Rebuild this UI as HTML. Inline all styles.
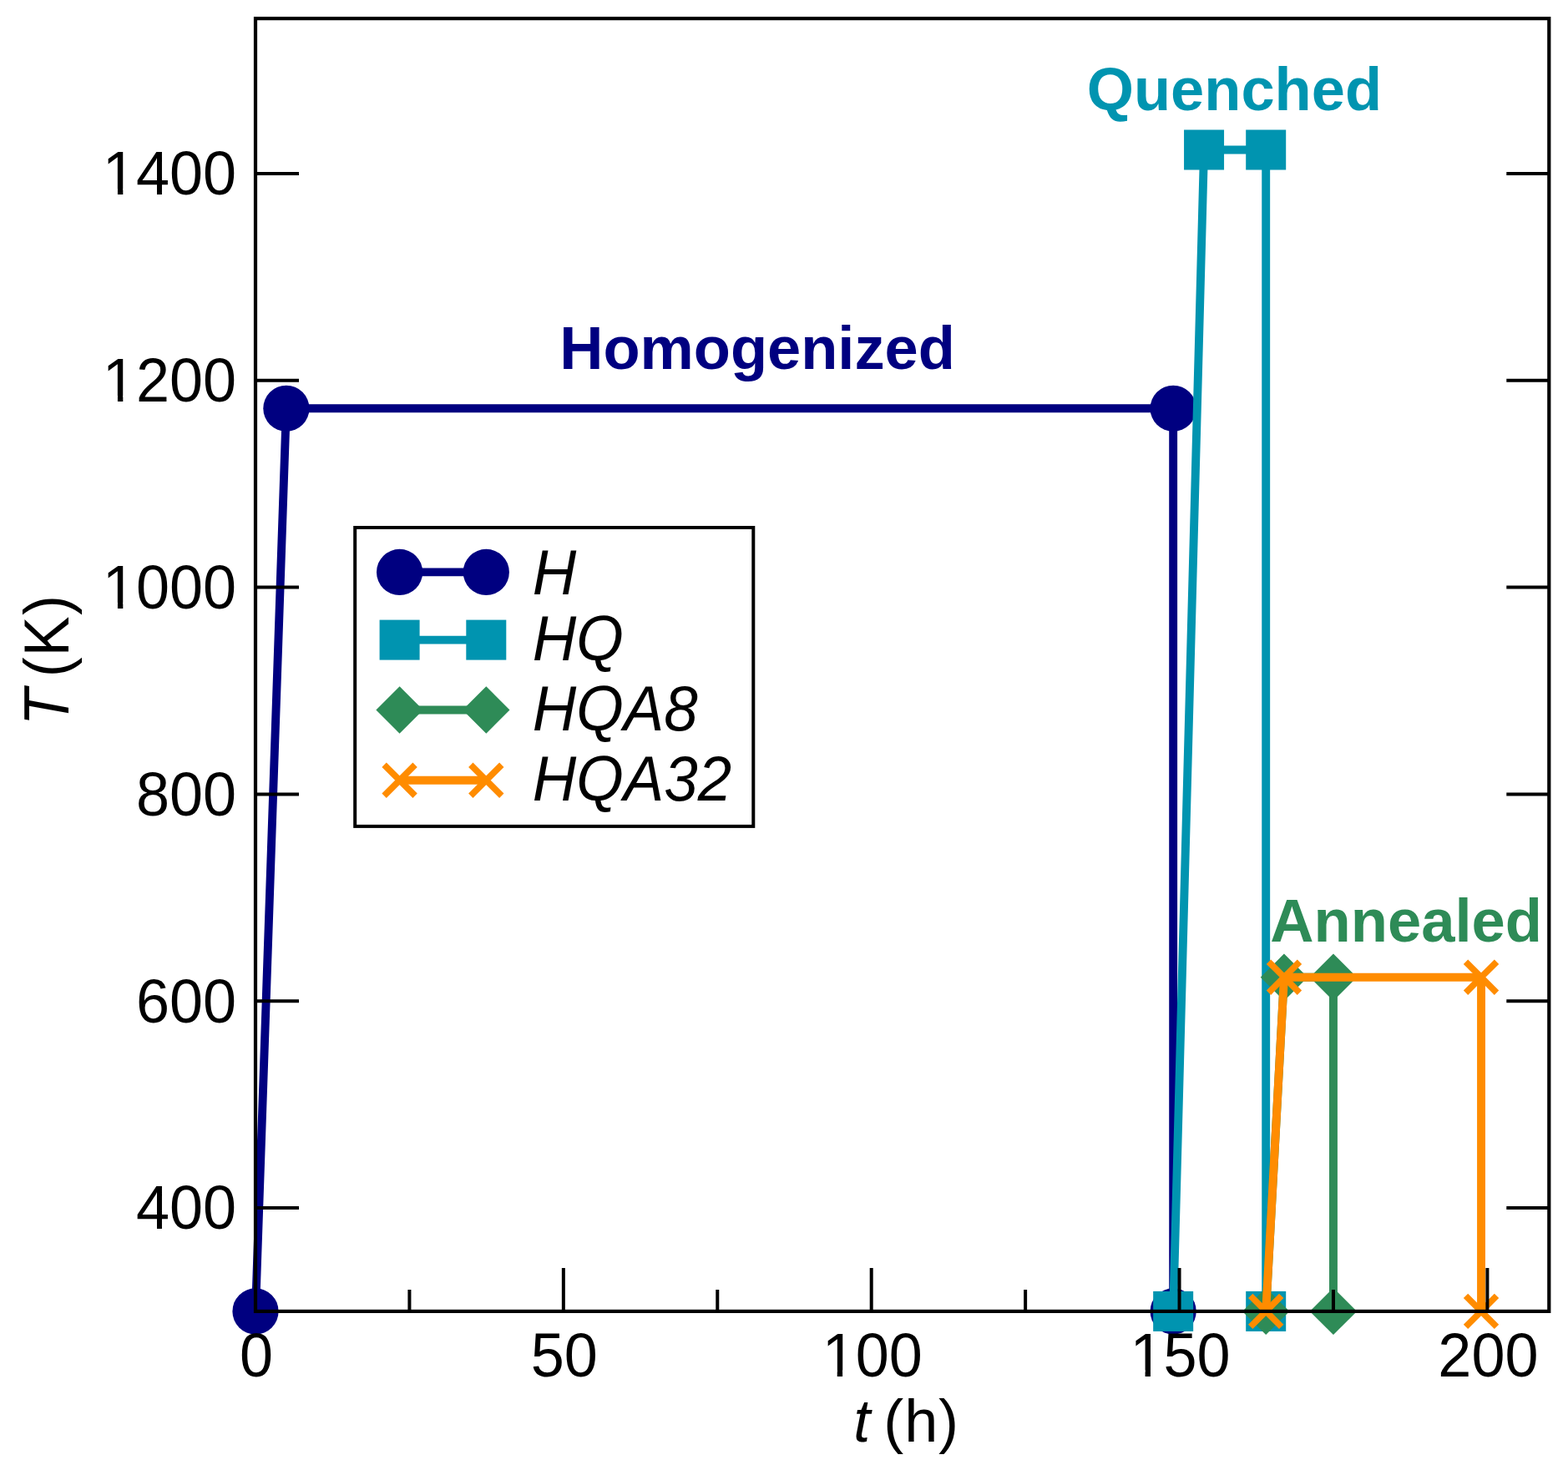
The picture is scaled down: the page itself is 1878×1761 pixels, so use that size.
<!DOCTYPE html>
<html><head><meta charset="utf-8"><title>Temperature history</title>
<style>html,body{margin:0;padding:0;background:#fff}body{width:1878px;height:1761px}svg{display:block}</style>
</head><body>
<svg width="1878" height="1761" viewBox="0 0 1878 1761">
<rect x="0" y="0" width="1878" height="1761" fill="#ffffff"/>
<polyline points="306,1570.9 342.88,489.25 1405.17,489.25 1405.17,1570.9" fill="none" stroke="#000080" stroke-width="9.9" stroke-linejoin="miter" stroke-miterlimit="20" stroke-linecap="butt"/>
<circle cx="306" cy="1570.9" r="27.6" fill="#000080"/>
<circle cx="342.88" cy="489.25" r="27.6" fill="#000080"/>
<circle cx="1405.17" cy="489.25" r="27.6" fill="#000080"/>
<circle cx="1405.17" cy="1570.9" r="27.6" fill="#000080"/>
<polyline points="1405.17,1570.9 1442.06,179.5 1516.2,179.5 1516.2,1570.9" fill="none" stroke="#0094B0" stroke-width="9.9" stroke-linejoin="miter" stroke-miterlimit="20" stroke-linecap="butt"/>
<rect x="1381.17" y="1546.9" width="48" height="48" fill="#0094B0"/>
<rect x="1418.06" y="155.5" width="48" height="48" fill="#0094B0"/>
<rect x="1492.2" y="155.5" width="48" height="48" fill="#0094B0"/>
<rect x="1492.2" y="1546.9" width="48" height="48" fill="#0094B0"/>
<polyline points="1516.2,1570.9 1537.96,1170.7 1596.97,1170.7 1596.97,1570.9" fill="none" stroke="#2E8B57" stroke-width="9.9" stroke-linejoin="miter" stroke-miterlimit="20" stroke-linecap="butt"/>
<polygon points="1516.2,1542.7 1544.4,1570.9 1516.2,1599.1 1488,1570.9" fill="#2E8B57"/>
<polygon points="1537.96,1142.5 1566.16,1170.7 1537.96,1198.9 1509.76,1170.7" fill="#2E8B57"/>
<polygon points="1596.97,1142.5 1625.17,1170.7 1596.97,1198.9 1568.77,1170.7" fill="#2E8B57"/>
<polygon points="1596.97,1542.7 1625.17,1570.9 1596.97,1599.1 1568.77,1570.9" fill="#2E8B57"/>
<polyline points="1516.2,1570.9 1537.96,1170.7 1774.02,1170.7 1774.02,1570.9" fill="none" stroke="#FF8C00" stroke-width="9.9" stroke-linejoin="miter" stroke-miterlimit="20" stroke-linecap="butt"/>
<path d="M1497.7 1552.4L1534.7 1589.4M1497.7 1589.4L1534.7 1552.4" stroke="#FF8C00" stroke-width="7.6" stroke-linecap="butt" fill="none"/>
<path d="M1519.46 1152.2L1556.46 1189.2M1519.46 1189.2L1556.46 1152.2" stroke="#FF8C00" stroke-width="7.6" stroke-linecap="butt" fill="none"/>
<path d="M1755.52 1152.2L1792.52 1189.2M1755.52 1189.2L1792.52 1152.2" stroke="#FF8C00" stroke-width="7.6" stroke-linecap="butt" fill="none"/>
<path d="M1755.52 1552.4L1792.52 1589.4M1755.52 1589.4L1792.52 1552.4" stroke="#FF8C00" stroke-width="7.6" stroke-linecap="butt" fill="none"/>
<rect x="306" y="22.15" width="1549.3" height="1548.75" fill="none" stroke="#000" stroke-width="4.2"/>
<path d="M674.85 1570.9V1518.9M1043.7 1570.9V1518.9M1412.55 1570.9V1518.9M1781.4 1570.9V1518.9M490.42 1570.9V1544.9M859.27 1570.9V1544.9M1228.12 1570.9V1544.9M1596.97 1570.9V1544.9M306 1447H358M1855.3 1447H1804.3M306 1199.2H358M1855.3 1199.2H1804.3M306 951.4H358M1855.3 951.4H1804.3M306 703.6H358M1855.3 703.6H1804.3M306 455.8H358M1855.3 455.8H1804.3M306 208H358M1855.3 208H1804.3" stroke="#000" stroke-width="4" fill="none"/>
<text id="y400" transform="translate(283 1472.4) scale(1.0000 1.0300)" text-anchor="end" style="font-family:'Liberation Sans',sans-serif;font-size:72px">400</text>
<text id="y600" transform="translate(283 1224.6) scale(1.0000 1.0300)" text-anchor="end" style="font-family:'Liberation Sans',sans-serif;font-size:72px">600</text>
<text id="y800" transform="translate(283 976.8) scale(1.0000 1.0300)" text-anchor="end" style="font-family:'Liberation Sans',sans-serif;font-size:72px">800</text>
<text id="y1000" transform="translate(283 729) scale(1.0000 1.0300)" text-anchor="end" style="font-family:'Liberation Sans',sans-serif;font-size:72px">1000</text>
<text id="y1200" transform="translate(283 481.2) scale(1.0000 1.0300)" text-anchor="end" style="font-family:'Liberation Sans',sans-serif;font-size:72px">1200</text>
<text id="y1400" transform="translate(283 233.4) scale(1.0000 1.0300)" text-anchor="end" style="font-family:'Liberation Sans',sans-serif;font-size:72px">1400</text>
<text id="x0" transform="translate(307 1648.5) scale(1.0000 1.0300)" text-anchor="middle" style="font-family:'Liberation Sans',sans-serif;font-size:72px">0</text>
<text id="x50" transform="translate(675.85 1648.5) scale(1.0000 1.0300)" text-anchor="middle" style="font-family:'Liberation Sans',sans-serif;font-size:72px">50</text>
<text id="x100" transform="translate(1044.7 1648.5) scale(1.0000 1.0300)" text-anchor="middle" style="font-family:'Liberation Sans',sans-serif;font-size:72px">100</text>
<text id="x150" transform="translate(1413.55 1648.5) scale(1.0000 1.0300)" text-anchor="middle" style="font-family:'Liberation Sans',sans-serif;font-size:72px">150</text>
<text id="x200" transform="translate(1782.4 1648.5) scale(1.0000 1.0300)" text-anchor="middle" style="font-family:'Liberation Sans',sans-serif;font-size:72px">200</text>
<text id="xlabel" transform="translate(1025.6 1726.6) scale(1.0000 0.9910)" style="font-family:'Liberation Sans',sans-serif;font-size:72px"><tspan x="-3.27" font-style="italic">t</tspan><tspan x="24.4 32.59 57.72 98.43"> (h)</tspan></text>
<g transform="translate(81.9 862.8) rotate(-90)"><text id="ylabel" transform="translate(0 0) scale(1.0000 1.0580)" style="font-family:'Liberation Sans',sans-serif;font-size:72px"><tspan x="-6.47" font-style="italic">T</tspan><tspan x="50 51.44 76.39 125.78"> (K)</tspan></text></g>
<text id="quenched" transform="translate(1301.7 132.4) scale(1.0038 1.0000)" fill="#0094B0" style="font-family:'Liberation Sans',sans-serif;font-size:72px;font-weight:bold">Quenched</text>
<text id="homog" transform="translate(670.2 442.4) scale(1.0035 1.0000)" fill="#000080" style="font-family:'Liberation Sans',sans-serif;font-size:72px;font-weight:bold">Homogenized</text>
<text id="anneal" transform="translate(1521.2 1128) scale(1.0054 1.0000)" fill="#2E8B57" style="font-family:'Liberation Sans',sans-serif;font-size:72px;font-weight:bold">Annealed</text>
<rect x="425.2" y="632" width="477.1" height="357.9" fill="#fff" stroke="#000" stroke-width="4"/>
<polyline points="478.6,685.4 582.3,685.4" fill="none" stroke="#000080" stroke-width="9.9" stroke-linejoin="miter" stroke-miterlimit="20" stroke-linecap="butt"/>
<circle cx="478.6" cy="685.4" r="27.6" fill="#000080"/>
<circle cx="582.3" cy="685.4" r="27.6" fill="#000080"/>
<text id="legH" transform="translate(637.7 712) scale(1.0100 1.0660)" style="font-family:'Liberation Sans',sans-serif;font-size:72px;font-style:italic">H</text>
<polyline points="478.6,766.6 582.3,766.6" fill="none" stroke="#0094B0" stroke-width="9.9" stroke-linejoin="miter" stroke-miterlimit="20" stroke-linecap="butt"/>
<rect x="454.6" y="742.6" width="48" height="48" fill="#0094B0"/>
<rect x="558.3" y="742.6" width="48" height="48" fill="#0094B0"/>
<text id="legHQ" transform="translate(637.7 790.9) scale(1.0100 1.0660)" style="font-family:'Liberation Sans',sans-serif;font-size:72px;font-style:italic">HQ</text>
<polyline points="478.6,850.5 582.3,850.5" fill="none" stroke="#2E8B57" stroke-width="9.9" stroke-linejoin="miter" stroke-miterlimit="20" stroke-linecap="butt"/>
<polygon points="478.6,822.3 506.8,850.5 478.6,878.7 450.4,850.5" fill="#2E8B57"/>
<polygon points="582.3,822.3 610.5,850.5 582.3,878.7 554.1,850.5" fill="#2E8B57"/>
<text id="legHQA8" transform="translate(637.7 875.2) scale(1.0100 1.0660)" style="font-family:'Liberation Sans',sans-serif;font-size:72px;font-style:italic">HQA8</text>
<polyline points="478.6,934.7 582.3,934.7" fill="none" stroke="#FF8C00" stroke-width="9.9" stroke-linejoin="miter" stroke-miterlimit="20" stroke-linecap="butt"/>
<path d="M460.1 916.2L497.1 953.2M460.1 953.2L497.1 916.2" stroke="#FF8C00" stroke-width="7.6" stroke-linecap="butt" fill="none"/>
<path d="M563.8 916.2L600.8 953.2M563.8 953.2L600.8 916.2" stroke="#FF8C00" stroke-width="7.6" stroke-linecap="butt" fill="none"/>
<text id="legHQA32" transform="translate(637.7 958.65) scale(1.0100 1.0660)" style="font-family:'Liberation Sans',sans-serif;font-size:72px;font-style:italic">HQA32</text>
<g><rect x="127.11" y="721.86" width="13.82" height="8.34" fill="#fff"/><rect x="147.3" y="721.86" width="13.26" height="8.34" fill="#fff"/><rect x="127.11" y="474.06" width="13.82" height="8.34" fill="#fff"/><rect x="147.3" y="474.06" width="13.26" height="8.34" fill="#fff"/><rect x="127.11" y="226.26" width="13.82" height="8.34" fill="#fff"/><rect x="147.3" y="226.26" width="13.26" height="8.34" fill="#fff"/><rect x="988.92" y="1641.36" width="13.82" height="8.34" fill="#fff"/><rect x="1009.1" y="1641.36" width="13.26" height="8.34" fill="#fff"/><rect x="1357.77" y="1641.36" width="13.82" height="8.34" fill="#fff"/><rect x="1377.95" y="1641.36" width="13.26" height="8.34" fill="#fff"/></g>
</svg>
</body></html>
